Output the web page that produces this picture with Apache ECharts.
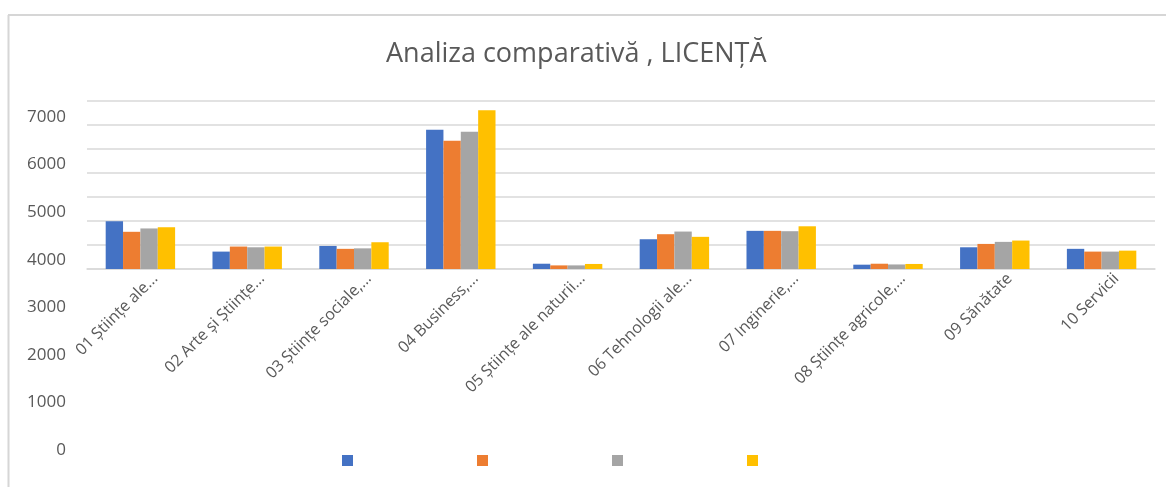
<!DOCTYPE html>
<html>
<head>
<meta charset="utf-8">
<script src="https://cdn.jsdelivr.net/npm/echarts@6/dist/echarts.min.js"></script>
<style>
  html, body { margin: 0; padding: 0; background: #fff; }
  #chart { width: 1166px; height: 487px; }
</style>
</head>
<body>
<div id="chart"></div>
<script>
// data
var categories = [
  '01 Științe ale...', '02 Arte și Științe...', '03 Științe sociale,...',
  '04 Business,...', '05 Științe ale naturii...', '06 Tehnologii ale...',
  '07 Inginerie,...', '08 Științe agricole,...', '09 Sănătate', '10 Servicii'
];
var seriesNames = ['Seria 1', 'Seria 2', 'Seria 3', 'Seria 4'];
var serie1 = [1990, 725, 960, 5800, 220, 1240, 1590, 180, 905, 840];
var serie2 = [1550, 935, 840, 5340, 150, 1450, 1590, 220, 1045, 725];
var serie3 = [1690, 905, 860, 5715, 150, 1560, 1575, 190, 1130, 725];
var serie4 = [1740, 935, 1115, 6610, 210, 1340, 1780, 210, 1185, 765];
var yTicks = [0, 1000, 2000, 3000, 4000, 5000, 6000, 7000];

var colors = ['#4472C4', '#ED7D31', '#A5A5A5', '#FFC000'];
var textColor = '#595959';
var font = 'Open Sans';

var chart = echarts.init(document.getElementById('chart'));

var allSeries = [serie1, serie2, serie3, serie4];
var series = allSeries.map(function (vals, i) {
  return {
    name: seriesNames[i],
    type: 'bar',
    xAxisIndex: 0,
    yAxisIndex: 0,
    barGap: '0%',
    barCategoryGap: '35%',
    itemStyle: { color: colors[i] },
    data: vals
  };
});

var option = {
  animation: false,
  backgroundColor: '#fff',
  color: colors,
  title: {
    text: 'Analiza comparativă , LICENȚĂ',
    left: 381,
    top: 36,
    textStyle: { color: textColor, fontFamily: font, fontSize: 27, fontWeight: 'normal' }
  },
  legend: {
    left: 337,
    top: 450,
    icon: 'rect',
    itemWidth: 11,
    itemHeight: 11,
    itemGap: 124,
    formatter: function () { return ''; },
    data: seriesNames
  },
  grid: [
    { left: 87, right: 11, top: 101, bottom: 218 },
    // the y labels sit on their own taller band, as in the picture
    { left: 72, right: 1088, top: 117, bottom: 37 }
  ],
  xAxis: [
    {
      type: 'category',
      gridIndex: 0,
      data: categories,
      axisLine: { lineStyle: { color: '#d9d9d9', width: 1.5 } },
      axisTick: { show: false },
      axisLabel: {
        rotate: 45,
        interval: 0,
        margin: 22,
        padding: [0, -21, 0, 0],
        color: textColor,
        fontFamily: font,
        fontSize: 16
      }
    },
    { type: 'category', gridIndex: 1, show: false, data: [''] }
  ],
  yAxis: [
    {
      type: 'value',
      gridIndex: 0,
      min: 0,
      max: 7000,
      interval: 1000,
      axisLabel: { show: false },
      axisLine: { show: false },
      axisTick: { show: false },
      splitLine: { lineStyle: { color: '#d9d9d9', width: 1.5 } }
    },
    {
      type: 'value',
      gridIndex: 1,
      min: yTicks[0],
      max: yTicks[yTicks.length - 1],
      interval: 1000,
      axisLine: { show: false },
      axisTick: { show: false },
      splitLine: { show: false },
      axisLabel: {
        margin: 6,
        color: textColor,
        fontFamily: font,
        fontSize: 17,
        formatter: function (v) { return String(v); }
      }
    }
  ],
  graphic: [
    { type: 'line', shape: { x1: 8, y1: 15, x2: 1166, y2: 15 }, style: { stroke: '#d6d6d6', lineWidth: 2 } },
    { type: 'line', shape: { x1: 8.5, y1: 15, x2: 8.5, y2: 487 }, style: { stroke: '#d6d6d6', lineWidth: 2 } }
  ],
  series: series
};

chart.setOption(option);
</script>
</body>
</html>
